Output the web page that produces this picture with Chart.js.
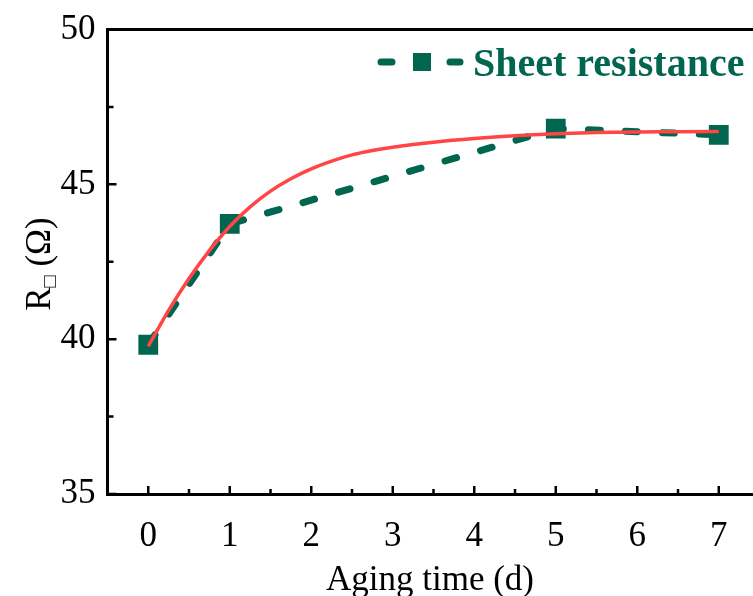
<!DOCTYPE html>
<html>
<head>
<meta charset="utf-8">
<script src="https://cdn.jsdelivr.net/npm/chart.js@4/dist/chart.umd.min.js"></script>
<style>
  html, body { margin: 0; padding: 0; background: #fff; }
  #wrap { width: 753px; height: 596px; position: relative; }
</style>
</head>
<body>
<div id="wrap"><canvas id="c" width="753" height="596"></canvas></div>
<script>
// Measured sheet resistance over aging time
const days = [0, 1, 5, 7];
const sheetResistance = [39.82, 43.72, 46.8, 46.6];

// Fitted saturation curve, sampled along the time axis
const fitDays = [0, 0.25, 0.5, 0.75, 1, 1.25, 1.5, 1.75, 2, 2.25, 2.5, 2.75, 3, 3.5, 4, 4.5, 5, 5.5, 6, 6.5, 7];
const fitValues = [39.77, 40.93, 41.96, 42.86, 43.64, 44.27, 44.78, 45.18, 45.5, 45.75, 45.95, 46.09, 46.2, 46.36, 46.48, 46.57, 46.63, 46.67, 46.69, 46.7, 46.71];

// Axis ticks
const xTickValues = [0, 1, 2, 3, 4, 5, 6, 7];
const xMinorValues = [0.5, 1.5, 2.5, 3.5, 4.5, 5.5, 6.5];
const yTickValues = [35, 40, 45, 50];
const yMinorValues = [37.5, 42.5, 47.5];

const GREEN = '#00664F';
const RED = '#FF4545';
const SERIF = '"Liberation Serif", "Times New Roman", serif';

const decorations = {
  id: 'decorations',
  afterDraw(chart) {
    const { ctx, chartArea: ca, scales: { x, y } } = chart;
    ctx.save();
    // top frame line
    ctx.strokeStyle = '#000';
    ctx.lineWidth = 3;
    ctx.beginPath();
    ctx.moveTo(ca.left - 1.5, ca.top);
    ctx.lineTo(ca.right, ca.top);
    ctx.stroke();

    // inward ticks
    ctx.lineWidth = 2.5;
    ctx.beginPath();
    xTickValues.forEach(v => { const px = x.getPixelForValue(v); ctx.moveTo(px, ca.bottom); ctx.lineTo(px, ca.bottom - 8); });
    xMinorValues.forEach(v => { const px = x.getPixelForValue(v); ctx.moveTo(px, ca.bottom); ctx.lineTo(px, ca.bottom - 5); });
    yTickValues.forEach(v => { const py = y.getPixelForValue(v); ctx.moveTo(ca.left, py); ctx.lineTo(ca.left + 9, py); });
    yMinorValues.forEach(v => { const py = y.getPixelForValue(v); ctx.moveTo(ca.left, py); ctx.lineTo(ca.left + 6, py); });
    ctx.stroke();

    // x axis title
    ctx.fillStyle = '#000';
    ctx.font = '35px ' + SERIF;
    ctx.textAlign = 'center';
    ctx.textBaseline = 'alphabetic';
    ctx.fillText('Aging time (d)', 430, 590);

    // y axis title: R with a small square subscript, then (Ω)
    ctx.save();
    ctx.translate(38, 264);
    ctx.rotate(-Math.PI / 2);
    const big = '35px ' + SERIF;
    const small = '20px ' + SERIF + ', "DejaVu Sans"';
    ctx.font = big; const wR = ctx.measureText('R').width;
    ctx.font = small; const wS = ctx.measureText('\u25A1').width;
    ctx.font = big; const wO = ctx.measureText(' (\u03A9)').width;
    const total = wR + wS + wO;
    let cx = -total / 2;
    ctx.textAlign = 'left';
    ctx.textBaseline = 'alphabetic';
    ctx.font = big; ctx.fillText('R', cx, 12); cx += wR;
    ctx.font = small; ctx.fillText('\u25A1', cx, 18); cx += wS;
    ctx.font = big; ctx.fillText(' (\u03A9)', cx, 12);
    ctx.restore();

    // legend entry
    const ly = 62;
    ctx.strokeStyle = GREEN;
    ctx.lineWidth = 7;
    ctx.lineCap = 'round';
    ctx.beginPath();
    ctx.moveTo(381, ly); ctx.lineTo(392, ly);
    ctx.moveTo(450, ly); ctx.lineTo(460, ly);
    ctx.stroke();
    ctx.fillStyle = GREEN;
    ctx.fillRect(413, ly - 9, 18, 18);
    ctx.font = 'bold 40px ' + SERIF;
    ctx.textAlign = 'left';
    ctx.fillText('Sheet resistance', 473, 76);
    ctx.restore();
  }
};

const noEdgePadding = s => { s.paddingLeft = 0; s.paddingRight = 0; s.paddingTop = 0; s.paddingBottom = 0; };

new Chart(document.getElementById('c'), {
  type: 'line',
  data: {
    datasets: [
      {
        label: 'Fit',
        data: fitDays.map((d, i) => ({ x: d, y: fitValues[i] })),
        borderColor: RED,
        borderWidth: 3.5,
        pointRadius: 0,
        cubicInterpolationMode: 'monotone',
        fill: false
      },
      {
        label: 'Sheet resistance',
        data: days.map((d, i) => ({ x: d, y: sheetResistance[i] })),
        borderColor: GREEN,
        borderWidth: 7,
        borderDash: [12, 25],
        borderCapStyle: 'round',
        tension: 0,
        pointStyle: 'rect',
        pointRadius: 14,
        pointBackgroundColor: GREEN,
        pointBorderColor: GREEN,
        pointBorderWidth: 0,
        fill: false
      }
    ]
  },
  options: {
    responsive: false,
    animation: false,
    events: [],
    layout: { autoPadding: false, padding: { top: 29.5, right: 0, left: 0, bottom: 0 } },
    plugins: { legend: { display: false }, tooltip: { enabled: false } },
    scales: {
      x: {
        type: 'linear',
        min: -0.5,
        max: 7.42,
        afterBuildTicks: s => { s.ticks = xTickValues.map(v => ({ value: v })); },
        afterFit: s => { s.height = 102; noEdgePadding(s); },
        grid: { display: false, drawTicks: false },
        border: { display: true, width: 3, color: '#000' },
        ticks: { color: '#000', padding: 22, font: { family: SERIF, size: 35 }, maxRotation: 0, autoSkip: false }
      },
      y: {
        type: 'linear',
        min: 35,
        max: 50,
        afterBuildTicks: s => { s.ticks = yTickValues.map(v => ({ value: v })); },
        afterFit: s => { s.width = 107.5; noEdgePadding(s); },
        grid: { display: false, drawTicks: false },
        border: { display: true, width: 3, color: '#000' },
        ticks: { color: '#000', padding: 12, font: { family: SERIF, size: 35 } }
      }
    }
  },
  plugins: [decorations]
});
</script>
</body>
</html>
